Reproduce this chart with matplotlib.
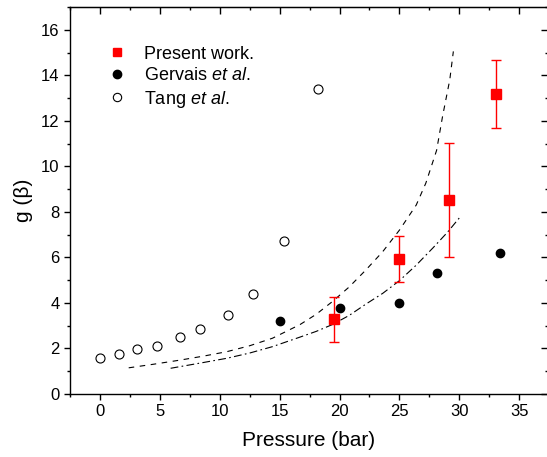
import numpy as np
import matplotlib
matplotlib.use('Agg')
import matplotlib.pyplot as plt
from matplotlib.lines import Line2D
from matplotlib.ticker import MultipleLocator

plt.rcParams['font.family'] = ['Liberation Sans', 'DejaVu Sans']
plt.rcParams['mathtext.fontset'] = 'custom'
plt.rcParams['mathtext.rm'] = 'Liberation Sans'
plt.rcParams['mathtext.it'] = 'Liberation Sans:italic'

# present work, with error bars
p_present = [19.5, 25.0, 29.1, 33.1]
g_present = [3.28, 5.93, 8.54, 13.19]
g_err = [1.0, 1.0, 2.5, 1.5]

# Gervais et al.
p_gervais = [15.0, 20.05, 25.0, 28.1, 33.4]
g_gervais = [3.21, 3.79, 4.0, 5.32, 6.2]

# Tang et al.
p_tang = [0.0, 1.6, 3.1, 4.8, 6.7, 8.35, 10.7, 12.8, 15.4, 18.2]
g_tang = [1.60, 1.76, 1.98, 2.11, 2.51, 2.86, 3.47, 4.40, 6.73, 13.4]

# model curves
p_dash = [2.4, 4.5, 6.7, 8.6, 10.6, 12.5, 14.4, 16.7, 18.05, 19.4, 20.8, 22.2, 23.6, 25.0,
          26.4, 27.2, 28.1, 28.6, 29.2, 29.5]
g_dash = [1.15, 1.31, 1.49, 1.66, 1.86, 2.12, 2.45, 3.05, 3.5, 4.06, 4.7, 5.45, 6.25, 7.2,
          8.3, 9.26, 10.7, 12.2, 13.8, 15.05]
p_dashdot = [5.9, 8.6, 10.6, 12.5, 14.4, 16.7, 18.05, 19.4, 20.8, 22.2, 23.6, 25.0, 26.4,
             27.8, 29.0, 30.1]
g_dashdot = [1.13, 1.38, 1.57, 1.8, 2.08, 2.5, 2.75, 3.05, 3.45, 3.95, 4.42, 4.98, 5.66,
             6.42, 7.1, 7.8]

fig = plt.figure(figsize=(5.47, 4.57), dpi=100)
ax = fig.add_axes([70/547, 63/457, 478/547, 387/457])

ax.plot(p_dash, g_dash, color='black', lw=0.8, dashes=(5, 5))
ax.plot(p_dashdot, g_dashdot, color='black', lw=0.8, dashes=(7, 3, 1.5, 3))

ax.errorbar(p_present, g_present, yerr=g_err, fmt='s', color='red', ms=6.5,
            elinewidth=1.0, capsize=3.5, capthick=1.0, zorder=5)
ax.plot(p_gervais, g_gervais, 'o', color='black', ms=6)
ax.plot(p_tang, g_tang, 'o', mfc='white', mec='black', mew=0.8, ms=6.5)

ax.set_xlim(-2.5, 37.4)
ax.set_ylim(0, 17)
ax.xaxis.set_major_locator(MultipleLocator(5))
ax.xaxis.set_minor_locator(MultipleLocator(2.5))
ax.yaxis.set_major_locator(MultipleLocator(2))
ax.yaxis.set_minor_locator(MultipleLocator(1))
ax.tick_params(which='both', direction='out', top=False, right=False, labelsize=12, width=1.0)
ax.tick_params(which='major', length=4)
ax.tick_params(which='minor', length=2.5)
for s in ax.spines.values():
    s.set_linewidth(1.0)

# inward ticks on the top and right edges
ax_top = ax.secondary_xaxis('top')
ax_top.xaxis.set_major_locator(MultipleLocator(5))
ax_top.xaxis.set_minor_locator(MultipleLocator(2.5))
ax_top.tick_params(which='both', direction='in', labeltop=False, width=1.0)
ax_top.tick_params(which='major', length=5)
ax_top.tick_params(which='minor', length=2.5)
ax_right = ax.secondary_yaxis('right')
ax_right.yaxis.set_major_locator(MultipleLocator(2))
ax_right.yaxis.set_minor_locator(MultipleLocator(1))
ax_right.tick_params(which='both', direction='in', labelright=False, width=1.0)
ax_right.tick_params(which='major', length=5)
ax_right.tick_params(which='minor', length=2.5)

ax.set_xlabel('Pressure (bar)', fontsize=15, labelpad=8)
ax.set_ylabel('g (β)', fontsize=15, labelpad=6)

handles = [
    Line2D([], [], ls='none', marker='s', color='red', ms=6),
    Line2D([], [], ls='none', marker='o', color='black', ms=6),
    Line2D([], [], ls='none', marker='o', mfc='white', mec='black', mew=0.8, ms=6),
]
labels = ['Present work.', r'Gervais $\it{et\ al.}$', r'Tang $\it{et\ al.}$']
ax.legend(handles, labels, loc='upper left', bbox_to_anchor=(0.045, 0.942), frameon=False,
          fontsize=13, handlelength=1.0, handletextpad=1.0, labelspacing=0.25, numpoints=1)

plt.savefig('out.png', dpi=100)
